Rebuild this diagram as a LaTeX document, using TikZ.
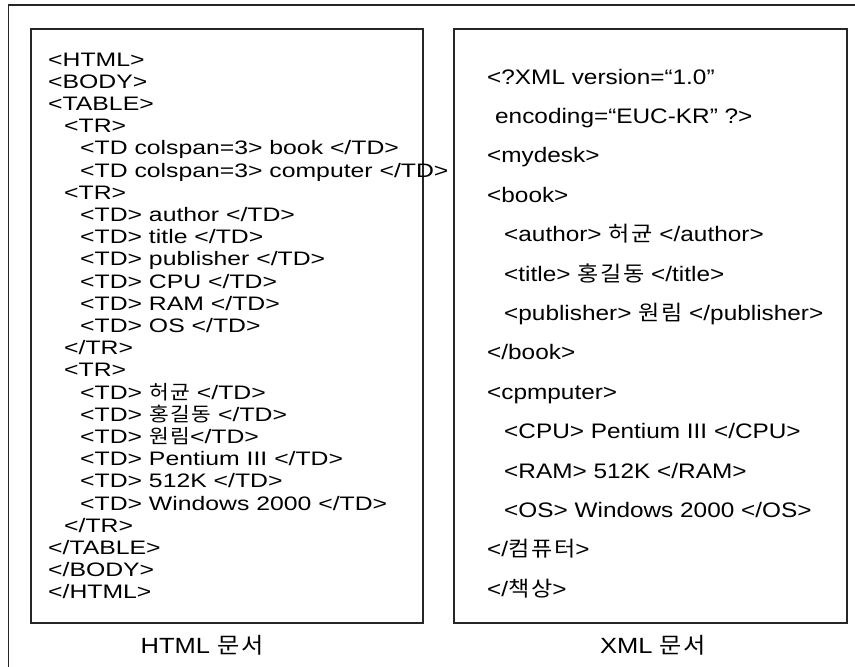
\documentclass[tikz,border=0pt]{standalone}
\usepackage{fontspec}
\newfontfamily\htmlfont[FakeStretch=1.27]{Liberation Sans}
\newfontfamily\xmlfont[FakeStretch=1.16]{Liberation Sans}
\newfontfamily\kr[FakeStretch=1.1,LetterSpace=8]{Noto Sans CJK KR}

\begin{document}
\begin{tikzpicture}[x=1pt,y=-1pt,
  box/.style={draw=black!85, line width=1.1pt},
  htmlline/.style={anchor=base west, inner sep=0pt, font=\htmlfont\fontsize{19.5}{22}\selectfont},
  xmlline/.style={anchor=base west, inner sep=0pt, font=\xmlfont\fontsize{21}{24}\selectfont},
  caption/.style={anchor=base, inner sep=0pt, font=\xmlfont\fontsize{22}{26}\selectfont}]
 \useasboundingbox (0,0) rectangle (855,667);

    %Frame
    \draw[box] (8.5,667) -- (8.5,5) -- (855,5);

    %Boxes
    \draw[box] (31,29) rectangle (423,623);
    \draw[box] (454,29) rectangle (847,623);

    % HTML document
    \foreach \ind/\txt [count=\i] in {0/{<HTML>}, 0/{<BODY>}, 0/{<TABLE>},
        1/{<TR>}, 2/{<TD colspan=3> book </TD>}, 2/{<TD colspan=3> computer </TD>},
        1/{<TR>}, 2/{<TD> author </TD>}, 2/{<TD> title </TD>}, 2/{<TD> publisher </TD>},
        2/{<TD> CPU </TD>}, 2/{<TD> RAM </TD>}, 2/{<TD> OS </TD>}, 1/{</TR>},
        1/{<TR>}, 2/{<TD> {\kr 허균} </TD>}, 2/{<TD> {\kr 홍길동} </TD>}, 2/{<TD> {\kr 원림}</TD>},
        2/{<TD> Pentium III </TD>}, 2/{<TD> 512K </TD>}, 2/{<TD> Windows 2000 </TD>},
        1/{</TR>}, 0/{</TABLE>}, 0/{</BODY>}, 0/{</HTML>}}
      \node[htmlline] (h\i) at ({48+16*\ind}, {66+22.2*(\i-1)}) {\txt};

    % XML document
    \foreach \xpos/\txt [count=\i] in {487/{<?XML version=“1.0”}, 495/{encoding=“EUC-KR” ?>},
        487/{<mydesk>}, 487/{<book>}, 504/{<author> {\kr 허균} </author>},
        504/{<title> {\kr 홍길동} </title>}, 504/{<publisher> {\kr 원림} </publisher>},
        487/{</book>}, 487/{<cpmputer>}, 504/{<CPU> Pentium III </CPU>},
        504/{<RAM> 512K </RAM>}, 504/{<OS> Windows 2000 </OS>},
        487/{</{\kr 컴퓨터}>}, 487/{</{\kr 책상}>}}
      \node[xmlline] (x\i) at (\xpos, {84+39.4*(\i-1)}) {\txt};

    % captions
    \node[caption] (hcap) at (202,653) {HTML {\kr 문서}};
    \node[caption] (xcap) at (653,653) {XML {\kr 문서}};
\end{tikzpicture}
\end{document}
